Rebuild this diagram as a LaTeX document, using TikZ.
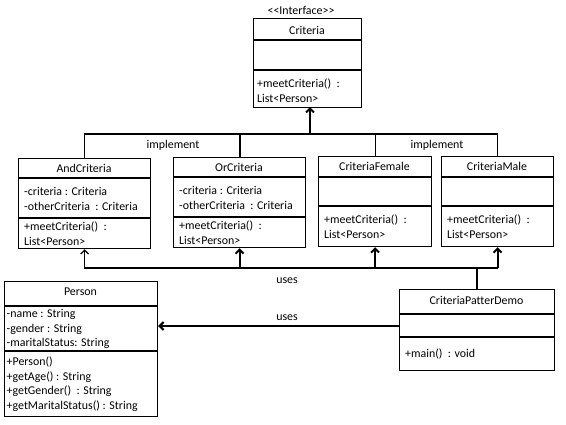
\documentclass[tikz,border=0pt]{standalone}
\usepackage{fontspec}
\setmainfont{Carlito}[Ligatures=NoCommon]
\usetikzlibrary{arrows.meta,calc}
\begin{document}
\begin{tikzpicture}[x=1pt,y=-1pt,
  every node/.style={font=\fontsize{11.9}{14}\selectfont},
  classbox/.style={draw, line width=1.2pt, anchor=north west, inner sep=0pt},
  sep/.style={line width=1.2pt},
  txt/.style={anchor=west, inner sep=0pt},
  ttl/.style={anchor=center, inner sep=0pt},
  thinlink/.style={line width=1.2pt},
  thicklink/.style={line width=2pt},
  tip/.style={-{Straight Barb[length=4pt,width=8pt]}}
]
\useasboundingbox (0,0) rectangle (566,424);

% ---------- Criteria interface ----------
\node[ttl] (stereo) at (301,10) {{<}{<}Interface{>}{>}};
\node[classbox, minimum width=108pt, minimum height=89pt] (criteria) at (253,18) {};
\draw[sep] (253,40) -- (361,40);
\draw[sep] (253,70) -- (361,70);
\node[ttl] (criteriaT) at (307,30) {Criteria};
\node[txt] (criteriaM1) at (257,84) {+meetCriteria()\ \ :};
\node[txt] (criteriaM2) at (257,98) {List<Person>};

% ---------- AndCriteria ----------
\node[classbox, minimum width=132pt, minimum height=90pt] (and) at (18,158) {};
\draw[sep] (18,178) -- (150,178);
\draw[sep] (18,218) -- (150,218);
\node[ttl] (andT) at (84,168) {AndCriteria};
\node[txt] (andA1) at (24,191) {-criteria : Criteria};
\node[txt] (andA2) at (24,206) {-otherCriteria\ \ : Criteria};
\node[txt] (andM1) at (24,227) {+meetCriteria()\ \ :};
\node[txt] (andM2) at (24,241) {List<Person>};

% ---------- OrCriteria ----------
\node[classbox, minimum width=132pt, minimum height=90pt] (or) at (173,157) {};
\draw[sep] (173,177) -- (305,177);
\draw[sep] (173,217) -- (305,217);
\node[ttl] (orT) at (239,167) {OrCriteria};
\node[txt] (orA1) at (179,190) {-criteria : Criteria};
\node[txt] (orA2) at (179,205) {-otherCriteria\ \ : Criteria};
\node[txt] (orM1) at (179,226) {+meetCriteria()\ \ :};
\node[txt] (orM2) at (179,240) {List<Person>};

% ---------- CriteriaFemale ----------
\node[classbox, minimum width=113pt, minimum height=90pt] (female) at (318,156) {};
\draw[sep] (318,177) -- (431,177);
\draw[sep] (318,206) -- (431,206);
\node[ttl] (femaleT) at (374.5,166.5) {CriteriaFemale};
\node[txt] (femaleM1) at (324,220) {+meetCriteria()\ \ :};
\node[txt] (femaleM2) at (324,234) {List<Person>};

% ---------- CriteriaMale ----------
\node[classbox, minimum width=112pt, minimum height=90pt] (male) at (441,156) {};
\draw[sep] (441,177) -- (553,177);
\draw[sep] (441,206) -- (553,206);
\node[ttl] (maleT) at (497,166.5) {CriteriaMale};
\node[txt] (maleM1) at (447,220) {+meetCriteria()\ \ :};
\node[txt] (maleM2) at (447,234) {List<Person>};

% ---------- Person ----------
\node[classbox, minimum width=153pt, minimum height=135pt] (person) at (4,281) {};
\draw[sep] (4,306) -- (157,306);
\draw[sep] (4,351) -- (157,351);
\node[ttl] (personT) at (80.5,292) {Person};
\node[txt] (personA1) at (6.5,314) {-name : String};
\node[txt] (personA2) at (6.5,329) {-gender : String};
\node[txt] (personA3) at (6.5,343) {-maritalStatus: String};
\node[txt] (personM1) at (6.5,362) {+Person()};
\node[txt] (personM2) at (6.5,377) {+getAge() : String};
\node[txt] (personM3) at (6.5,391) {+getGender()\ \ : String};
\node[txt] (personM4) at (6.5,406) {+getMaritalStatus() : String};

% ---------- CriteriaPatterDemo ----------
\node[classbox, minimum width=155pt, minimum height=81pt] (demo) at (399,289) {};
\draw[sep] (399,314) -- (554,314);
\draw[sep] (399,337) -- (554,337);
\node[ttl] (demoT) at (476.5,300.5) {CriteriaPatterDemo};
\node[txt] (demoM1) at (405,354) {+main()\ \ : void};

% ---------- implement links ----------
\coordinate (top) at (0,134);
\coordinate (critx) at (310,107);
\draw[thinlink] (and.north) -- (and.north |- top) -- (or.north |- top);
\draw[thicklink] (or.north) -- (or.north |- top) -- (critx |- top);
\draw[thinlink] (critx |- top) -- (male.north |- top) -- (male.north);
\draw[thinlink] (female.north) -- (female.north |- top);
\draw[thicklink, tip] (critx |- top) -- (critx);
\node[ttl] (impl1) at (173,145) {implement};
\node[ttl] (impl2) at (437,145) {implement};

% ---------- uses links ----------
\coordinate (bot) at (0,268);
\draw[thinlink, tip] (or.south |- bot) -- (and.south |- bot) -- (and.south);
\draw[thicklink] (demo.north) -- (demo.north |- bot);
\draw[thicklink] (or.south |- bot) -- (male.south |- bot);
\draw[thicklink, tip] (or.south |- bot) -- (or.south);
\draw[thicklink, tip] (female.south |- bot) -- (female.south);
\draw[thicklink, tip] (male.south |- bot) -- (male.south);
\node[ttl] (uses1) at (287,281) {uses};
\coordinate (usesy) at (0,326);
\draw[thicklink, tip] (demo.west |- usesy) -- (person.east |- usesy);
\node[ttl] (uses2) at (287,318) {uses};
\end{tikzpicture}
\end{document}
